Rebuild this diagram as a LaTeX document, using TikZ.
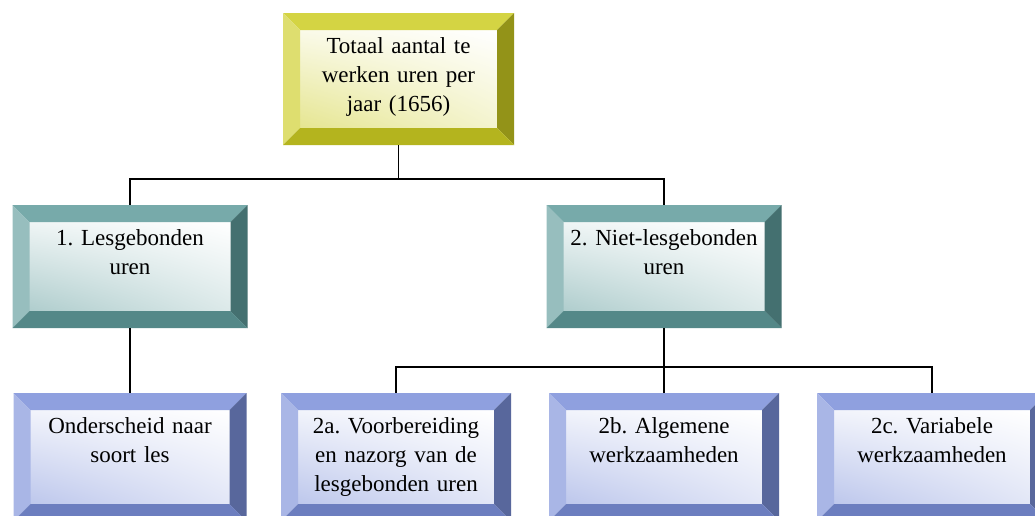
\documentclass[tikz,border=0pt]{standalone}
\usepackage{fontspec}
\setmainfont{Liberation Serif}
\usepackage{tikz}
\usetikzlibrary{positioning, calc, shadings}
\definecolor{frameyellow}{HTML}{CCCC22}
\definecolor{frameteal}{HTML}{5F9B9B}
\definecolor{frameblue}{HTML}{7B8FD9}
\frenchspacing
\tikzset{
  bevelbox/.style={rectangle, inner sep=0pt, align=center,
    font=\fontsize{23}{29}\selectfont, text height=40pt,
    path picture={
      \path (path picture bounding box.south west) coordinate (sw)
            (path picture bounding box.north east) coordinate (ne)
            (path picture bounding box.north west) coordinate (nw)
            (path picture bounding box.south east) coordinate (se);
      % face
      \shade[upper left=#1!10!white, upper right=white,
             lower left=#1!50!white, lower right=#1!22!white]
        ([shift={(17pt,17pt)}]sw) rectangle ([shift={(-17pt,-17pt)}]ne);
      % bevels
      \fill[#1!85!white] (nw) -- (ne) -- ([shift={(-17pt,-17pt)}]ne) -- ([shift={(17pt,-17pt)}]nw) -- cycle;
      \fill[#1!65!white] (nw) -- ([shift={(17pt,-17pt)}]nw) -- ([shift={(17pt,17pt)}]sw) -- (sw) -- cycle;
      \fill[#1!72!black] (ne) -- (se) -- ([shift={(-17pt,17pt)}]se) -- ([shift={(-17pt,-17pt)}]ne) -- cycle;
      \fill[#1!88!black] (sw) -- ([shift={(17pt,17pt)}]sw) -- ([shift={(-17pt,17pt)}]se) -- (se) -- cycle;
    }},
  totalbox/.style={bevelbox=frameyellow, text width=231pt, text depth=92pt},
  soortbox/.style={bevelbox=frameteal, text width=235pt, text depth=83pt},
  deelbox/.style={bevelbox=frameblue, text width=#1, text depth=88pt},
  tree/.style={draw=black, line width=1.4pt}
}
\begin{document}
\begin{tikzpicture}[x=1pt, y=1pt]
  % canvas
  \fill[white] (0,0) rectangle (1035,-515);
  \useasboundingbox (0,0) rectangle (1035,-515);

  % top
  \node[totalbox] (totaal) at (398.5,-79) {Totaal aantal te\\werken uren per\\jaar (1656)};

  % second level
  \node[soortbox] (les) at (130,-266.5) {1. Lesgebonden\\uren};
  \node[soortbox] (niet) at (664,-266.5) {2. Niet-lesgebonden\\uren};

  % third level
  \node[deelbox=233pt] (soort) at (130,-457) {Onderscheid naar\\soort les};
  \foreach \x/\name/\label in {396/voorb/{2a. Voorbereiding\\en nazorg van de\\lesgebonden uren}, 664/alg/{2b. Algemene\\werkzaamheden}, 932/var/{2c. Variabele\\werkzaamheden}} {
    \node[deelbox=230pt] (\name) at (\x,-457) {\label};
  }

  % connectors
  \coordinate (split1) at (398.5,-179);
  \coordinate (split2) at (664,-367);
  \draw[tree] (totaal.south) -- (split1);
  \draw[tree] (les.north) |- (split1) -| (niet.north);
  \draw[tree] (les.south) -- (soort.north);
  \draw[tree] (niet.south) -- (split2);
  \draw[tree] (voorb.north) |- (split2) -| (var.north);
  \draw[tree] (split2) -- (alg.north);
\end{tikzpicture}
\end{document}
